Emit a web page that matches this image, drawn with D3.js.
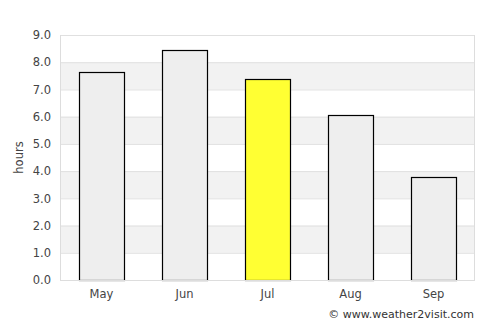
<!DOCTYPE html>
<meta charset="utf-8">
<script src="https://d3js.org/d3.v7.min.js"></script>
<style>
  body { margin: 0; background: #fff; }
  text { font-family: "DejaVu Sans", sans-serif; }
</style>
<div id="chart"></div>
<script>
// sunshine hours per month
var months = ["May", "Jun", "Jul", "Aug", "Sep"];
var hours = [7.65, 8.45, 7.38, 6.06, 3.78];
var highlight = "Jul";
var yTicks = [0, 1, 2, 3, 4, 5, 6, 7, 8, 9];

var w = 500, h = 325;
var margin = {top: 35, right: 25, bottom: 45, left: 60};
var width = w - margin.left - margin.right,
    height = h - margin.top - margin.bottom;

var svg = d3.select("#chart").append("svg")
    .attr("width", w)
    .attr("height", h);

var g = svg.append("g")
    .attr("transform", "translate(" + margin.left + "," + margin.top + ")");

var x = d3.scaleBand()
  .domain(months)
  .range([0, width])
  .paddingInner(0.46)
  .paddingOuter(0.23);

var y = d3.scaleLinear()
  .domain([0, 9])
  .range([height, 0]);

// alternating bands
g.selectAll(".band")
  .data(yTicks.slice(0, -1).filter(function(d) { return d % 2 == 1; }))
  .enter().append("rect")
    .attr("x", 0)
    .attr("width", width)
    .attr("y", function(d) { return y(d + 1); })
    .attr("height", function(d) { return y(d) - y(d + 1); })
    .attr("fill", "#f2f2f2");

// grid lines
g.selectAll(".grid")
  .data(yTicks)
  .enter().append("line")
    .attr("x1", 0).attr("x2", width)
    .attr("y1", function(d) { return y(d) + 0.5; })
    .attr("y2", function(d) { return y(d) + 0.5; })
    .attr("stroke", "#e0e0e0");

// frame sides
g.append("line").attr("x1", 0.5).attr("x2", 0.5).attr("y1", 0).attr("y2", height)
  .attr("stroke", "#dddddd");
g.append("line").attr("x1", width - 0.5).attr("x2", width - 0.5).attr("y1", 0).attr("y2", height)
  .attr("stroke", "#dddddd");

// bars
g.selectAll(".bar")
  .data(months)
  .enter().append("rect")
    .attr("x", function(d) { return Math.round(x(d)) + 0.5; })
    .attr("width", Math.round(x.bandwidth()))
    .attr("y", function(d, i) { return Math.round(y(hours[i])) + 0.5; })
    .attr("height", function(d, i) { return height - Math.round(y(hours[i])); })
    .attr("fill", function(d) { return d == highlight ? "#ffff33" : "#eeeeee"; })
    .attr("stroke", "#000")
    .attr("stroke-width", 1.2);

// bottom line over bars
g.append("line").attr("x1", 0).attr("x2", width)
  .attr("y1", height + 0.5).attr("y2", height + 0.5)
  .attr("stroke", "#dddddd");

// y axis labels
var yAxis = g.append("g")
  .call(d3.axisLeft(y).tickValues(yTicks).tickFormat(d3.format(".1f")).tickSize(0).tickPadding(9));
yAxis.select(".domain").remove();
yAxis.selectAll("text")
  .attr("fill", "#444")
  .style("font-size", "11.5px")
  .style("font-family", "DejaVu Sans");

// x axis labels
var xAxis = g.append("g")
  .attr("transform", "translate(0," + height + ")")
  .call(d3.axisBottom(x).tickSize(0).tickPadding(10));
xAxis.select(".domain").remove();
xAxis.selectAll("text")
  .attr("fill", "#444")
  .style("font-size", "11.5px")
  .style("font-family", "DejaVu Sans");

// y title
svg.append("text")
  .attr("transform", "translate(23," + (margin.top + height / 2) + ")rotate(-90)")
  .attr("text-anchor", "middle")
  .attr("fill", "#444")
  .style("font-size", "11.5px")
  .text("hours");

// credit
svg.append("text")
  .attr("x", 474)
  .attr("y", 318)
  .attr("text-anchor", "end")
  .attr("fill", "#333")
  .style("font-size", "11px")
  .text("© www.weather2visit.com");
</script>
